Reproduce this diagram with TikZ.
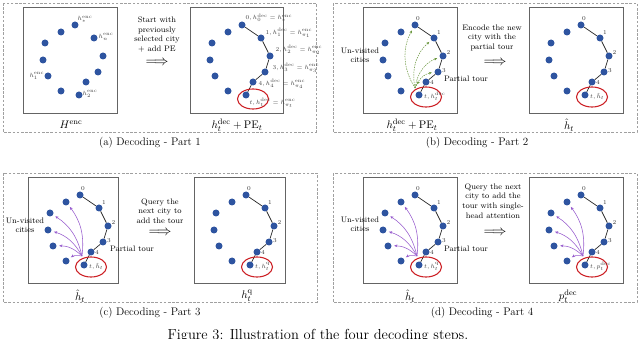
\documentclass[tikz,border=0pt]{standalone}
\usepackage{amsmath}
\usetikzlibrary{arrows.meta,shapes.geometric}
\definecolor{cityblue}{RGB}{46,84,160}
\definecolor{framegray}{RGB}{160,160,160}
\definecolor{boxgray}{RGB}{100,100,100}
\definecolor{ellred}{RGB}{205,35,40}
\definecolor{attgreen}{RGB}{105,150,60}
\definecolor{attpurple}{RGB}{150,90,205}
\tikzset{
  city/.style={circle, fill=cityblue, inner sep=0pt, minimum size=7pt},
  cbox/.style={draw=boxgray, line width=1.2pt, inner sep=0pt, anchor=north west},
  frame/.style={draw=framegray, line width=0.6pt, dash pattern=on 2.6pt off 1.6pt},
  tour/.style={draw=black!85, line width=0.7pt},
  sel/.style={draw=ellred, line width=1.1pt, ellipse, minimum width=31pt, minimum height=20pt, inner sep=0pt},
  lbl/.style={font=\fontsize{6}{7}\selectfont, text=black!75, inner sep=0.5pt},
  num/.style={font=\fontsize{6}{7}\selectfont, text=black!80, inner sep=0pt},
  steptext/.style={font=\fontsize{8}{9.7}\selectfont, align=center, inner sep=0pt},
  sidetext/.style={font=\fontsize{8}{9.2}\selectfont, align=center, inner sep=0pt},
  bigarrow/.style={font=\fontsize{15.5}{17}\selectfont, inner sep=0pt},
  boxcap/.style={font=\fontsize{11}{13}\selectfont, inner sep=0pt},
  subcap/.style={font=\fontsize{11}{13}\selectfont, inner sep=0pt},
  figcap/.style={font=\fontsize{14.5}{17}\selectfont, inner sep=0pt, anchor=base},
  garrow/.style={draw=attgreen, line width=0.5pt, dash pattern=on 1.5pt off 1pt, -{Stealth[length=3pt,width=2.6pt]}, shorten >=2.5pt},
  parrow/.style={draw=attpurple, line width=0.55pt, -{Stealth[length=3.2pt,width=2.8pt]}, shorten >=2.5pt}
}
\newcommand{\cityset}[5]{%
  \node[cbox, minimum width=#4pt, minimum height=#5pt] (#1box) at (#2,#3) {};
  \foreach \n/\dx/\dy in {d0/52/18,u1/38/25,u2/22/36,u3/20/53,u4/25/69,u5/38/84,dt/56/88,d4/63/75,d3/75/65,d2/80/49,d1/71/31}
    \node[city] (#1\n) at (#2+\dx,#3+\dy) {};
}
\newcommand{\citytour}[1]{%
  \draw[tour] (#1d0) -- (#1d1) -- (#1d2) -- (#1d3) -- (#1d4) -- (#1dt);
}
\newcommand{\citynums}[1]{%
  \node[num] (#1n0) at ([shift={(3,-6.5)}]#1d0) {0};
  \node[num] (#1n1) at ([shift={(5,-5)}]#1d1) {1};
  \node[num] (#1n2) at ([shift={(5.5,-3)}]#1d2) {2};
  \node[num] (#1n3) at ([shift={(6,-1)}]#1d3) {3};
  \node[num] (#1n4) at ([shift={(6,0)}]#1d4) {4};
}
\newcommand{\citysel}[3]{%
  \node[sel] (#1sel) at ([shift={(7,#2)}]#1dt) {};
  \node[lbl, anchor=west] (#1tl) at ([shift={(4.5,1.5)}]#1dt) {#3};
}
\newcommand{\attnpurple}[1]{%
  \coordinate (#1src) at ([shift={(-2,-9)}]#1dt);
  \foreach \u in {u1,u2,u3,u4,u5}
    \draw[parrow] (#1src) to[bend right=22] (#1\u);
}
\begin{document}
\begin{tikzpicture}[x=1pt,y=-1pt]
\useasboundingbox (0,0) rectangle (640,339);
% dashed frames
\draw[frame] (3,3) rectangle (316,132);
\draw[frame] (333,3) rectangle (637,132);
\draw[frame] (3,173) rectangle (317,302);
\draw[frame] (333,173) rectangle (637,302);

% ---------------- (a)
\cityset{a1}{23}{7}{94}{106}
\node[lbl, anchor=west] (a1l0) at ([shift={(2,-5.5)}]a1d0) {$h_{*}^{\mathrm{enc}}$};
\node[lbl, anchor=west] (a1l1) at ([shift={(4,-1)}]a1d1) {$h_{n}^{\mathrm{enc}}$};
\node[lbl, anchor=east] (a1l2) at ([shift={(-3,0)}]a1u4) {$h_{1}^{\mathrm{enc}}$};
\node[lbl, anchor=west] (a1l3) at ([shift={(3,-1)}]a1dt) {$h_{2}^{\mathrm{enc}}$};
\node[boxcap] (a1cap) at (71,125) {$H^{\mathrm{enc}}$};

\node[steptext] (atext) at (157,34.5) {Start with\\previously\\selected city\\+ add PE};
\node[bigarrow] (aarr) at (157,63) {$\Longrightarrow$};

\cityset{a2}{190}{7}{93}{106}
\citytour{a2}
\node[sel] (a2sel) at ([shift={(7,4)}]a2dt) {};
\node[lbl, anchor=west] (a2l0) at ([shift={(3,-7)}]a2d0) {$0, h_0^{\mathrm{dec}}=h_{*}^{\mathrm{enc}}$};
\node[lbl, anchor=west] (a2l1) at ([shift={(4,-5)}]a2d1) {$1, h_1^{\mathrm{dec}}=h_{\pi_1}^{\mathrm{enc}}$};
\node[lbl, anchor=west] (a2l2) at ([shift={(5,-6)}]a2d2) {$2, h_2^{\mathrm{dec}}=h_{\pi_2}^{\mathrm{enc}}$};
\node[lbl, anchor=west] (a2l3) at ([shift={(7,-4)}]a2d3) {$3, h_3^{\mathrm{dec}}=h_{\pi_3}^{\mathrm{enc}}$};
\node[lbl, anchor=west] (a2l4) at ([shift={(5,2)}]a2d4) {$4, h_4^{\mathrm{dec}}=h_{\pi_4}^{\mathrm{enc}}$};
\node[lbl, anchor=west] (a2lt) at ([shift={(3,8)}]a2dt) {$t, h_t^{\mathrm{dec}}=h_{\pi_t}^{\mathrm{enc}}$};
\node[boxcap] (a2cap) at (237,125) {$h_t^{\mathrm{dec}}+\mathrm{PE}_t$};
\node[subcap] (asub) at (150,143) {(a) Decoding - Part 1};

% ---------------- (b)
\cityset{b1}{363}{7}{94}{106}
\citytour{b1}
\citynums{b1}
\citysel{b1}{2}{$t, h_t^{\mathrm{dec}}$}
\coordinate (b1src) at ([shift={(-4,-7)}]b1dt);
\foreach \d in {d0,d1,d2,d3,d4}
  \draw[garrow] (b1src) to[bend left=30] (b1\d);
\node[sidetext] (b1uv) at (360,55.5) {Un-visited\\cities};
\node[sidetext] (b1pt) at (466,79) {Partial tour};
\node[boxcap] (b1cap) at (412,125) {$h_t^{\mathrm{dec}}+\mathrm{PE}_t$};

\node[steptext] (btext) at (492,38) {Encode the new\\city with the\\partial tour};
\node[bigarrow] (barr) at (495,63) {$\Longrightarrow$};

\cityset{b2}{529}{7}{94}{106}
\citytour{b2}
\citynums{b2}
\citysel{b2}{2}{$t, \hat{h}_t$}
\node[boxcap] (b2cap) at (569,125) {$\hat{h}_t$};
\node[subcap] (bsub) at (477,143) {(b) Decoding - Part 2};

% ---------------- (c)
\cityset{c1}{28}{177}{90}{106}
\citytour{c1}
\citynums{c1}
\citysel{c1}{2}{$t, \hat{h}_t$}
\attnpurple{c1}
\node[sidetext] (c1uv) at (25,225) {Un-visited\\cities};
\node[sidetext] (c1pt) at (132,249) {Partial tour};
\node[boxcap] (c1cap) at (80,296) {$\hat{h}_t$};

\node[steptext] (ctext) at (160,211) {Query the\\next city to\\add the tour};
\node[bigarrow] (carr) at (160,233) {$\Longrightarrow$};

\cityset{c2}{194}{177}{91}{106}
\citytour{c2}
\citynums{c2}
\citysel{c2}{2}{$t, h_t^{\mathrm{q}}$}
\node[boxcap] (c2cap) at (247,296) {$h_t^{\mathrm{q}}$};
\node[subcap] (csub) at (150,313) {(c) Decoding - Part 3};

% ---------------- (d)
\cityset{d1}{363}{177}{94}{106}
\citytour{d1}
\citynums{d1}
\citysel{d1}{2}{$t, h_t^{\mathrm{q}}$}
\attnpurple{d1}
\node[sidetext] (d1uv) at (360,224) {Un-visited\\cities};
\node[sidetext] (d1pt) at (466,249) {Partial tour};
\node[boxcap] (d1cap) at (410,296) {$\hat{h}_t$};

\node[steptext] (dtext) at (493,201) {Query the next\\city to add the\\tour with single-\\head attention};
\node[bigarrow] (darr) at (495,233) {$\Longrightarrow$};

\cityset{d2}{529}{177}{94}{106}
\citytour{d2}
\citynums{d2}
\citysel{d2}{2}{$t, p_t^{\mathrm{dec}}$}
\attnpurple{d2}
\node[boxcap] (d2cap) at (568,296) {$p_t^{\mathrm{dec}}$};
\node[subcap] (dsub) at (482,313) {(d) Decoding - Part 4};

% figure caption (cut by the page edge)
\node[figcap] (figcap) at (318,339.5) {Figure 3: Illustration of the four decoding steps.};
\end{tikzpicture}
\end{document}
